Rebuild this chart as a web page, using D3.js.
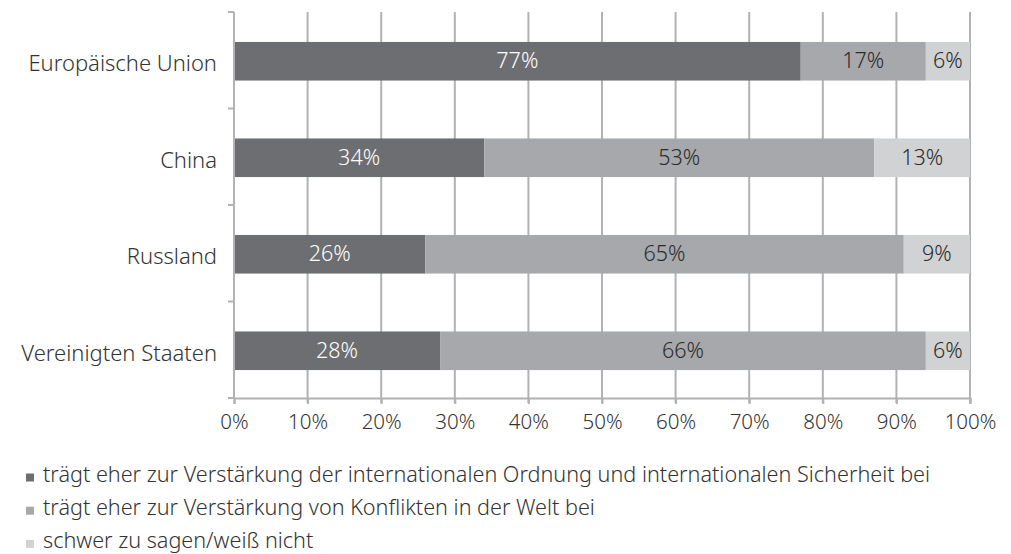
<!DOCTYPE html>
<html>
<head>
<meta charset="utf-8">
<script src="https://cdn.jsdelivr.net/npm/d3@7"></script>
<style>
  html, body { margin: 0; padding: 0; background: #fff; }
  svg { display: block; font-family: "Noto Sans", "Open Sans", sans-serif; font-weight: 300; }
</style>
</head>
<body>
<svg id="chart" width="1011" height="554"></svg>
<script>
// Survey results: share of answers per country (percent)
const categories = ["Europäische Union", "China", "Russland", "Vereinigten Staaten"];
const seriesNames = [
  "trägt eher zur Verstärkung der internationalen Ordnung und internationalen Sicherheit bei",
  "trägt eher zur Verstärkung von Konflikten in der Welt bei",
  "schwer zu sagen/weiß nicht"
];
const strengthens = [77, 34, 26, 28];
const conflicts   = [17, 53, 65, 66];
const dontKnow    = [6, 13, 9, 6];
const xTicks = [0, 10, 20, 30, 40, 50, 60, 70, 80, 90, 100];

const colors = ["#6d6e71", "#a7a8ab", "#d1d2d4"];
const labelColors = ["#ffffff", "#2a2a2a", "#2a2a2a"];
const gridColor = "#b1b2b4";
const textColor = "#333333";

const svg = d3.select("#chart");
const margin = { left: 234, right: 41, top: 12, bottom: 156 };
const W = 1011, H = 554;

const x = d3.scaleLinear().domain([0, 100]).range([margin.left, W - margin.right]);
const y = d3.scaleBand().domain(categories).range([margin.top + 1, H - margin.bottom + 1]).paddingInner(0.6).paddingOuter(0.3);
const yBound = d3.scaleBand().domain(categories).range([margin.top, H - margin.bottom]);

// Vertical gridlines
svg.append("g").selectAll("line").data(xTicks.slice(1)).join("line")
  .attr("x1", d => x(d)).attr("x2", d => x(d))
  .attr("y1", margin.top).attr("y2", H - margin.bottom + 5)
  .attr("stroke", gridColor).attr("stroke-width", 2);

// Stacked bars
const rows = categories.map((c, i) => ({ cat: c, vals: [strengthens[i], conflicts[i], dontKnow[i]] }));
const series = d3.stack().keys([0, 1, 2]).value((d, k) => d.vals[k])(rows);

const gBars = svg.append("g");
series.forEach((s, k) => {
  gBars.append("g").attr("fill", colors[k]).selectAll("rect").data(s).join("rect")
    .attr("x", d => x(d[0]))
    .attr("width", d => x(d[1]) - x(d[0]))
    .attr("y", d => y(d.data.cat))
    .attr("height", y.bandwidth());
  gBars.append("g").selectAll("text").data(s).join("text")
    .attr("x", d => (x(d[0]) + x(d[1])) / 2)
    .attr("y", d => y(d.data.cat) + y.bandwidth() / 2)
    .attr("dy", "0.33em")
    .attr("text-anchor", "middle")
    .attr("fill", labelColors[k])
    .attr("font-size", 21.5)
    .text(d => d.data.vals[k] + "%");
});

// Left axis line with category boundary ticks
const yAxisG = svg.append("g");
yAxisG.append("line")
  .attr("x1", margin.left).attr("x2", margin.left)
  .attr("y1", margin.top).attr("y2", H - margin.bottom)
  .attr("stroke", gridColor).attr("stroke-width", 2);
const bounds = categories.map(c => yBound(c)).concat([H - margin.bottom]);
yAxisG.selectAll("line.tick").data(bounds).join("line")
  .attr("class", "tick")
  .attr("x1", margin.left - 6).attr("x2", margin.left)
  .attr("y1", d => d).attr("y2", d => d)
  .attr("stroke", gridColor).attr("stroke-width", 2);
yAxisG.selectAll("text").data(categories).join("text")
  .attr("x", margin.left - 17)
  .attr("y", d => yBound(d) + yBound.bandwidth() / 2)
  .attr("dy", "0.5em")
  .attr("text-anchor", "end")
  .attr("fill", textColor)
  .attr("font-size", 22)
  .text(d => d);

// Bottom axis
const xAxis = d3.axisBottom(x).tickValues(xTicks).tickSize(6).tickPadding(10).tickFormat(d => d + "%");
const gx = svg.append("g").attr("transform", `translate(0,${H - margin.bottom})`).call(xAxis);
gx.select(".domain").attr("stroke", gridColor).attr("stroke-width", 2);
gx.selectAll(".tick line").attr("stroke", gridColor).attr("stroke-width", 2);
gx.selectAll(".tick text").attr("fill", textColor).attr("font-size", 20.5)
  .attr("font-family", "\"Noto Sans\", sans-serif").attr("font-weight", 300);

// Legend
const legend = svg.append("g");
seriesNames.forEach((name, i) => {
  const base = 481.5 + i * 33.2;
  legend.append("rect").attr("x", 26).attr("y", base - 8).attr("width", 8).attr("height", 8).attr("fill", colors[i]);
  legend.append("text").attr("x", 43).attr("y", base)
    .attr("fill", textColor).attr("font-size", 21.6).text(name);
});
</script>
</body>
</html>
